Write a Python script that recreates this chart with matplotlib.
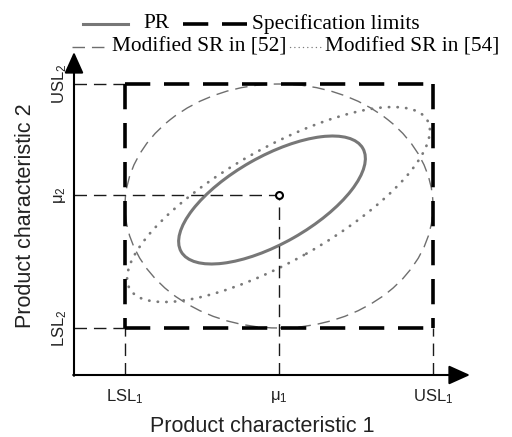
import matplotlib
matplotlib.use("Agg")
import matplotlib.pyplot as plt
from matplotlib.patches import Ellipse

plt.rcParams['mathtext.fontset'] = 'custom'
plt.rcParams['mathtext.rm'] = 'Liberation Sans'
plt.rcParams['mathtext.it'] = 'Liberation Sans:italic'

# ---- data (chart units, origin at axes corner) ----
spec_x = [51, 359]          # LSL1, USL1
spec_y = [47, 291]          # LSL2, USL2
mu = [205, 180]             # mu1, mu2
axis_tip = [396, 323]       # arrow tips of x and y axes
x_tick_labels = ["LSL$_1$", "\u03bc$_1$", "USL$_1$"]
y_tick_labels = ["LSL$_2$", "\u03bc$_2$", "USL$_2$"]
# ellipses: center x, center y, width, height, angle
pr_ellipse = [198, 175, 209, 87, 29.6]
sr52_ellipse = [205, 169, 308, 244, 0.0]
sr54_ellipse = [204.5, 170.5, 342, 113, 29.5]
legend_labels = ["PR", "Specification limits", "Modified SR in [52]", "Modified SR in [54]"]

fig = plt.figure(figsize=(5.12, 4.37), dpi=100)
ax = fig.add_axes([0, 0, 1, 1])
ax.set_xlim(-74, 438)
ax.set_ylim(-62, 375)
ax.axis('off')

thin = dict(color='#1a1a1a', lw=1.0, linestyle=(0, (9, 5)))
thick = dict(color='black', lw=2.6, linestyle=(0, (7.0, 3.8)), dash_capstyle='butt')

# thin guide lines
for yv in spec_y:
    ax.plot([0, spec_x[0]], [yv, yv], **thin)
for xv in spec_x:
    ax.plot([xv, xv], [0, spec_y[0]], **thin)
ax.plot([0, mu[0]], [mu[1], mu[1]], **thin)
ax.plot([mu[0], mu[0]], [0, mu[1]], **thin)

# spec box (thick dashes starting from corners)
ax.plot([spec_x[0], spec_x[1]], [spec_y[1], spec_y[1]], **thick)
ax.plot([spec_x[0], spec_x[1]], [spec_y[0], spec_y[0]], **thick)
ax.plot([spec_x[0], spec_x[0]], [spec_y[1], spec_y[0]], **thick)
ax.plot([spec_x[1], spec_x[1]], [spec_y[1], spec_y[0]], **thick)

# ellipses
cx, cy, w, h, a = sr52_ellipse
ax.add_patch(Ellipse((cx, cy), w, h, angle=a, fill=False, edgecolor='#6e6e6e',
                     lw=1.0, linestyle=(0, (9, 5))))
cx, cy, w, h, a = sr54_ellipse
ax.add_patch(Ellipse((cx, cy), w, h, angle=a, fill=False, edgecolor='#7a7a7a',
                     lw=2.0, linestyle=(0, (0.1, 3.0)), capstyle='round'))
cx, cy, w, h, a = pr_ellipse
ax.add_patch(Ellipse((cx, cy), w, h, angle=a, fill=False, edgecolor='#777777', lw=2.2))

# mean point
ax.plot([mu[0]], [mu[1]], marker='o', ms=5, mfc='white', mec='black', mew=1.5, zorder=5)

# axes with arrows
ax.annotate('', xy=(axis_tip[0], 0), xytext=(-0.8, 0),
            arrowprops=dict(arrowstyle='-|>,head_length=1.0,head_width=0.45',
                            lw=1.5, color='black', mutation_scale=13, shrinkA=0, shrinkB=0))
ax.annotate('', xy=(0, axis_tip[1]), xytext=(0, -0.8),
            arrowprops=dict(arrowstyle='-|>,head_length=1.0,head_width=0.45',
                            lw=1.5, color='black', mutation_scale=13, shrinkA=0, shrinkB=0))

sans = 'Liberation Sans'
tick_x = [spec_x[0], mu[0], spec_x[1]]
for xv, lab in zip(tick_x, x_tick_labels):
    ax.text(xv, -22, lab, ha='center', va='center', fontsize=12, family=sans, color='#222222')
tick_y = [spec_y[0], mu[1], spec_y[1]]
for yv, lab in zip(tick_y, y_tick_labels):
    ax.text(-14, yv, lab, ha='center', va='center', rotation=90, fontsize=12, family=sans,
            color='#222222')

ax.text(188, -52, "Product characteristic 1", ha='center', va='center', fontsize=15.5,
        family=sans, color='#222222')
ax.text(-48, 159, "Product characteristic 2", ha='center', va='center', rotation=90,
        fontsize=15.5, family=sans, color='#222222')

# legend (manual layout)
serif = 'Liberation Serif'
lfs = 15.4
ax.plot([9, 54], [351, 351], color='#777777', lw=2.2, clip_on=False)
ax.text(69, 351, legend_labels[0], ha='left', va='center', fontsize=lfs, family=serif)
ax.plot([109, 173], [351, 351], color='black', lw=2.6, linestyle=(0, (7.0, 3.8)), clip_on=False)
ax.text(178, 351, legend_labels[1], ha='left', va='center', fontsize=lfs, family=serif)
ax.plot([-2, 34], [328, 328], color='#6e6e6e', lw=1.0, linestyle=(0, (9, 5)), clip_on=False)
ax.text(38, 328, legend_labels[2], ha='left', va='center', fontsize=lfs, family=serif)
ax.plot([216, 248], [328, 328], color='#7a7a7a', lw=1.0, linestyle=(0, (0.1, 3.0)),
        dash_capstyle='round', clip_on=False)
ax.text(251, 328, legend_labels[3], ha='left', va='center', fontsize=lfs, family=serif)

fig.savefig("out.png", dpi=100)
